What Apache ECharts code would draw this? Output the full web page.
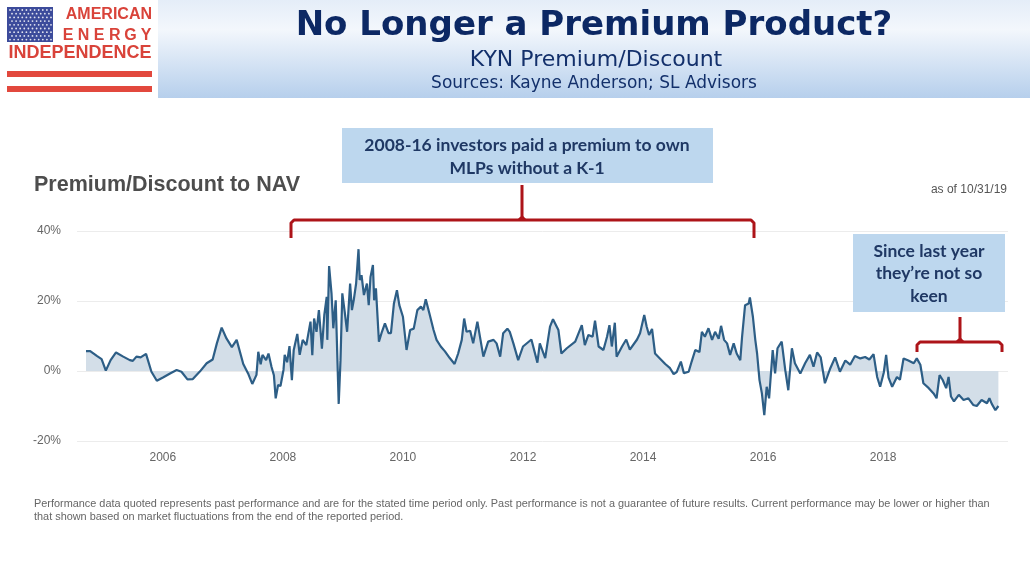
<!DOCTYPE html>
<html>
<head>
<meta charset="utf-8">
<title>No Longer a Premium Product?</title>
<script src="https://cdn.jsdelivr.net/npm/echarts@6/dist/echarts.min.js"></script>
<style>
  html, body { margin: 0; padding: 0; background: #fff; }
  #chart { width: 1030px; height: 579px; }
</style>
</head>
<body>
<div id="chart"></div>
<script>
// KYN premium / discount to NAV (decimal year, %)
const dates = [
    2004.72, 2004.79, 2004.90, 2004.98, 2005.05, 2005.13, 2005.22, 2005.34, 2005.45, 2005.50,
    2005.56, 2005.63, 2005.72, 2005.81, 2005.90, 2006.01, 2006.12, 2006.23, 2006.31, 2006.41,
    2006.50, 2006.62, 2006.73, 2006.83, 2006.90, 2006.98, 2007.06, 2007.15, 2007.23, 2007.34,
    2007.42, 2007.49, 2007.56, 2007.59, 2007.63, 2007.66, 2007.72, 2007.76, 2007.81, 2007.85,
    2007.88, 2007.92, 2007.96, 2008.01, 2008.03, 2008.07, 2008.11, 2008.15, 2008.18, 2008.24,
    2008.28, 2008.33, 2008.39, 2008.46, 2008.49, 2008.52, 2008.56, 2008.60, 2008.65, 2008.69,
    2008.73, 2008.74, 2008.77, 2008.81, 2008.84, 2008.88, 2008.91, 2008.93, 2008.96, 2008.99,
    2009.03, 2009.07, 2009.12, 2009.15, 2009.18, 2009.22, 2009.26, 2009.28, 2009.31, 2009.35,
    2009.40, 2009.43, 2009.46, 2009.50, 2009.52, 2009.55, 2009.60, 2009.65, 2009.70, 2009.76,
    2009.80, 2009.85, 2009.90, 2009.94, 2010.00, 2010.06, 2010.12, 2010.18, 2010.24, 2010.30,
    2010.34, 2010.38, 2010.44, 2010.51, 2010.56, 2010.63, 2010.70, 2010.78, 2010.86, 2010.92,
    2010.98, 2011.02, 2011.06, 2011.12, 2011.17, 2011.24, 2011.27, 2011.34, 2011.42, 2011.51,
    2011.56, 2011.62, 2011.67, 2011.74, 2011.78, 2011.84, 2011.92, 2012.00, 2012.14, 2012.24,
    2012.28, 2012.37, 2012.45, 2012.50, 2012.59, 2012.64, 2012.73, 2012.87, 2012.98, 2013.03,
    2013.09, 2013.16, 2013.20, 2013.26, 2013.34, 2013.40, 2013.44, 2013.48, 2013.53, 2013.56,
    2013.65, 2013.72, 2013.78, 2013.90, 2013.95, 2014.02, 2014.06, 2014.10, 2014.15, 2014.20,
    2014.28, 2014.37, 2014.45, 2014.51, 2014.56, 2014.63, 2014.68, 2014.76, 2014.81, 2014.87,
    2014.94, 2014.98, 2015.03, 2015.09, 2015.15, 2015.20, 2015.26, 2015.30, 2015.35, 2015.40,
    2015.45, 2015.51, 2015.56, 2015.62, 2015.65, 2015.70, 2015.76, 2015.78, 2015.83, 2015.87,
    2015.90, 2015.94, 2015.98, 2016.02, 2016.06, 2016.10, 2016.16, 2016.20, 2016.24, 2016.31,
    2016.37, 2016.42, 2016.48, 2016.53, 2016.62, 2016.70, 2016.78, 2016.84, 2016.90, 2016.96,
    2017.03, 2017.12, 2017.20, 2017.28, 2017.37, 2017.45, 2017.53, 2017.62, 2017.70, 2017.77,
    2017.84, 2017.90, 2017.95, 2018.01, 2018.05, 2018.09, 2018.15, 2018.23, 2018.28, 2018.34,
    2018.42, 2018.51, 2018.56, 2018.62, 2018.67, 2018.76, 2018.84, 2018.89, 2018.94, 2018.99,
    2019.05, 2019.09, 2019.13, 2019.18, 2019.26, 2019.34, 2019.42, 2019.50, 2019.56, 2019.64,
    2019.73, 2019.77, 2019.81, 2019.87, 2019.92
];

const premium = [
    5.7, 5.7, 4.3, 3.4, 0.1, 3.1, 5.3, 4.1, 3.1, 2.9,
    4.1, 3.9, 4.9, -0.2, -2.8, -1.8, -0.7, 0.3, -0.2, -2.4,
    -2.3, -0.1, 2.2, 3.3, 7.9, 12.4, 9.3, 6.8, 8.9, 2.0,
    -0.7, -3.7, -1.1, 5.5, 1.9, 4.6, 3.1, 5.0, 1.2, -1.2,
    -7.8, -4.0, -4.3, 0.3, 4.6, 2.5, 7.1, -2.6, 5.9, 10.6,
    4.6, 8.9, 7.4, 14.1, 4.5, 15.0, 11.2, 17.4, 6.4, 16.0,
    21.2, 8.9, 30.0, 22.2, 12.2, 20.2, 2.2, -9.4, 3.1, 22.2,
    16.9, 11.2, 25.0, 17.4, 20.2, 25.0, 34.8, 26.0, 27.4, 21.7,
    25.0, 18.8, 26.9, 30.3, 20.2, 23.6, 8.4, 11.2, 13.6, 10.8,
    10.8, 19.3, 23.1, 18.8, 15.5, 6.0, 11.7, 12.1, 17.4, 18.4,
    17.4, 20.5, 16.5, 11.7, 8.9, 7.0, 5.6, 3.7, 2.0, 5.0,
    8.9, 15.0, 11.2, 11.5, 7.9, 14.1, 14.6, 4.1, 8.4, 8.9,
    7.9, 4.1, 10.8, 12.1, 11.2, 7.9, 3.1, 7.0, 9.0, 2.4,
    7.9, 3.7, 12.7, 14.8, 11.7, 5.0, 6.5, 8.4, 13.1, 7.4,
    10.3, 9.8, 14.4, 7.0, 6.0, 9.8, 13.1, 7.0, 13.8, 4.1,
    7.0, 9.0, 6.1, 9.0, 10.8, 16.0, 12.7, 10.3, 12.0, 5.0,
    3.6, 2.0, 0.8, -0.9, -0.3, 2.7, -0.6, -0.2, 2.7, 6.0,
    5.4, 11.2, 9.8, 12.2, 8.9, 11.2, 9.2, 12.9, 8.9, 7.9,
    4.6, 7.9, 5.0, 3.1, 9.8, 18.8, 19.3, 21.0, 15.5, 8.9,
    5.0, -2.6, -6.4, -12.6, -4.5, -7.8, 6.0, -0.7, 6.5, 8.4,
    0.2, -5.5, 6.5, 2.2, -0.7, 2.2, 4.6, 1.2, 5.3, 3.9,
    -3.5, 0.8, 3.9, -0.2, 3.0, 1.8, 4.3, 3.6, 4.0, 3.3,
    4.8, -1.7, -4.5, -0.5, 4.6, -1.9, -4.5, -1.7, -2.5, 3.6,
    3.0, 2.2, 3.6, 1.8, -3.5, -4.9, -6.4, -7.8, -1.2, -2.5,
    -4.9, -1.7, -7.3, -8.7, -6.8, -8.3, -7.8, -9.7, -10.0, -8.3,
    -9.2, -7.8, -9.4, -11.2, -10.0
];

const yearTicks = [2006, 2008, 2010, 2012, 2014, 2016, 2018];
const pctTicks = [-20, 0, 20, 40];

const NAVY = '#13306b';
const LOGO_RED = '#d9433a';
const BRACKET_RED = '#ad1419';
const BOX_BLUE = '#bdd7ee';

const chart = echarts.init(document.getElementById('chart'), null, { renderer: 'canvas' });

// flag field of stars for the logo
function flagStars() {
    const out = [];
    for (let r = 0; r < 9; r++) {
        const cols = r % 2 === 0 ? 11 : 10;
        const off = r % 2 === 0 ? 0 : 2;
        for (let c = 0; c < cols; c++) {
            out.push({
                type: 'circle',
                shape: { cx: 10 + off + c * 4.1, cy: 10 + r * 3.7, r: 0.9 },
                style: { fill: 'rgba(255,255,255,0.85)' },
                z: 20,
            });
        }
    }
    return out;
}

function letterSpaced(text, x0, x1, y, font, color) {
    const step = (x1 - x0) / (text.length - 1);
    return text.split('').map((ch, i) => ({
        type: 'text',
        x: x0 + i * step,
        y: y,
        style: { text: ch, fill: color, font: font, align: 'center', verticalAlign: 'middle' },
        z: 20,
    }));
}

function bracket(xl, xr, yh, yEnd, xm, yTop) {
    const st = { stroke: BRACKET_RED, lineWidth: 3, lineJoin: 'round', lineCap: 'butt', fill: null };
    return [
        { type: 'polyline', shape: { points: [[xl, yEnd], [xl, yh + 3], [xl + 3, yh], [xr - 3, yh], [xr, yh + 3], [xr, yEnd]] }, style: st, z: 50 },
        { type: 'polyline', shape: { points: [[xm - 3, yh], [xm, yh - 3], [xm, yTop]] }, style: st, z: 50 },
        { type: 'polyline', shape: { points: [[xm + 3, yh], [xm, yh - 3]] }, style: st, z: 50 },
    ];
}

function boxText(lines, cx, y0, dy) {
    return lines.map((t, i) => ({
        type: 'text',
        x: cx,
        y: y0 + i * dy,
        style: { text: t, fill: '#1f3864', font: 'bold 17.5px Lato, "Open Sans", sans-serif', align: 'center', verticalAlign: 'middle' },
        z: 61,
    }));
}

const footFont = '10.9px "Liberation Sans", Arial, sans-serif';

const graphics = [
    // header band
    {
        type: 'rect',
        shape: { x: 158, y: 0, width: 872, height: 98 },
        style: {
            fill: {
                type: 'linear', x: 0, y: 0, x2: 0, y2: 1,
                colorStops: [
                    { offset: 0, color: '#e4edf8' },
                    { offset: 0.3, color: '#f3f7fc' },
                    { offset: 1, color: '#b6cfec' },
                ],
            },
        },
        z: 1,
    },
    // logo
    { type: 'rect', shape: { x: 7, y: 7, width: 46, height: 35 }, style: { fill: '#3c4b9b' }, z: 19 },
    ...flagStars(),
    {
        type: 'text', x: 152, y: 15,
        style: { text: 'AMERICAN', fill: LOGO_RED, font: 'bold 16px "Liberation Sans", Arial, sans-serif', align: 'right', verticalAlign: 'middle' },
        z: 20,
    },
    ...letterSpaced('ENERGY', 68, 146, 36, 'bold 16px "Liberation Sans", Arial, sans-serif', LOGO_RED),
    {
        type: 'text', x: 80, y: 53,
        style: { text: 'INDEPENDENCE', fill: LOGO_RED, font: 'bold 18px "Liberation Sans", Arial, sans-serif', align: 'center', verticalAlign: 'middle' },
        z: 20,
    },
    { type: 'rect', shape: { x: 7, y: 71, width: 145, height: 6 }, style: { fill: '#e2483d' }, z: 20 },
    { type: 'rect', shape: { x: 7, y: 86, width: 145, height: 6 }, style: { fill: '#e2483d' }, z: 20 },

    // slide titles
    {
        type: 'text', x: 594, y: 26,
        style: { text: 'No Longer a Premium Product?', fill: '#0c2864', font: 'bold 34px "DejaVu Sans", Verdana, sans-serif', align: 'center', verticalAlign: 'middle' },
        z: 5,
    },
    {
        type: 'text', x: 596, y: 60,
        style: { text: 'KYN Premium/Discount', fill: NAVY, font: '22px "DejaVu Sans", Verdana, sans-serif', align: 'center', verticalAlign: 'middle' },
        z: 5,
    },
    {
        type: 'text', x: 594, y: 84,
        style: { text: 'Sources: Kayne Anderson; SL Advisors', fill: NAVY, font: '17px "DejaVu Sans", Verdana, sans-serif', align: 'center', verticalAlign: 'middle' },
        z: 5,
    },

    // chart heading
    {
        type: 'text', x: 34, y: 185,
        style: { text: 'Premium/Discount to NAV', fill: '#4d4d4d', font: 'bold 21.5px "Liberation Sans", Arial, sans-serif', align: 'left', verticalAlign: 'middle' },
        z: 5,
    },
    {
        type: 'text', x: 1007, y: 190,
        style: { text: 'as of 10/31/19', fill: '#555', font: '12px "Liberation Sans", Arial, sans-serif', align: 'right', verticalAlign: 'middle' },
        z: 5,
    },

    // annotation 1
    { type: 'rect', shape: { x: 342, y: 128, width: 371, height: 55 }, style: { fill: BOX_BLUE }, z: 60 },
    ...boxText(['2008-16 investors paid a premium to own', 'MLPs without a K-1'], 527, 145, 23),
    ...bracket(291, 754, 220, 238, 522, 185),

    // annotation 2
    { type: 'rect', shape: { x: 853, y: 234, width: 152, height: 78 }, style: { fill: BOX_BLUE }, z: 60 },
    ...boxText(['Since last year', 'they\u2019re not so', 'keen'], 929, 251, 22.5),
    ...bracket(917, 1002, 342, 352, 960, 317),

    // footnote
    {
        type: 'text', x: 34, y: 504,
        style: { text: 'Performance data quoted represents past performance and are for the stated time period only. Past performance is not a guarantee of future results. Current performance may be lower or higher than', fill: '#666', font: footFont, align: 'left', verticalAlign: 'middle' },
        z: 5,
    },
    {
        type: 'text', x: 34, y: 517,
        style: { text: 'that shown based on market fluctuations from the end of the reported period.', fill: '#666', font: footFont, align: 'left', verticalAlign: 'middle' },
        z: 5,
    },
];

const option = {
    backgroundColor: '#fff',
    animation: false,
    grid: { left: 77, right: 22, top: 231, bottom: 138, containLabel: false },
    xAxis: {
        type: 'value',
        min: 2004.57,
        max: 2020.08,
        axisLine: { show: false },
        axisTick: { show: false },
        splitLine: { show: false },
        axisLabel: {
            customValues: yearTicks,
            color: '#666',
            fontSize: 12,
            fontFamily: '"Liberation Sans", Arial, sans-serif',
            margin: 11,
            formatter: v => String(Math.round(v)),
        },
    },
    yAxis: {
        type: 'value',
        min: pctTicks[0],
        max: pctTicks[pctTicks.length - 1],
        interval: 20,
        axisLine: { show: false },
        axisTick: { show: false },
        axisLabel: {
            color: '#666',
            fontSize: 12,
            fontFamily: '"Liberation Sans", Arial, sans-serif',
            margin: 16,
            formatter: v => v + '%',
        },
        splitLine: { lineStyle: { color: '#ececec', width: 1 } },
    },
    series: [{
        type: 'line',
        name: 'Premium/Discount',
        data: dates.map((d, i) => [d, premium[i]]),
        symbol: 'none',
        smooth: false,
        lineStyle: { color: '#2d5e86', width: 2.2 },
        areaStyle: { color: '#d3dee8', opacity: 1, origin: 'auto' },
        z: 3,
    }],
    graphic: graphics,
};

chart.setOption(option);
</script>
</body>
</html>
